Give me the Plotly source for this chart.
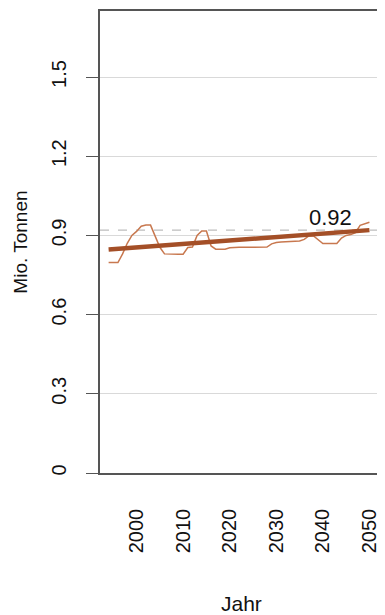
import plotly.graph_objects as go

years = list(range(1994, 2051))
values = [
    0.797, 0.797, 0.797, 0.830, 0.870, 0.900, 0.915, 0.935, 0.939, 0.939,  # 1994-2003
    0.900, 0.855, 0.830, 0.829, 0.829, 0.829, 0.829, 0.854, 0.856, 0.900,  # 2004-2013
    0.917, 0.917, 0.860, 0.848, 0.848, 0.848, 0.853, 0.855, 0.855, 0.855,  # 2014-2023
    0.855, 0.855, 0.855, 0.855, 0.856, 0.868, 0.873, 0.875, 0.876, 0.877,  # 2024-2033
    0.878, 0.879, 0.885, 0.898, 0.898, 0.885, 0.869, 0.869, 0.869, 0.869,  # 2034-2043
    0.890, 0.900, 0.903, 0.910, 0.938, 0.945, 0.950,                       # 2044-2050
]
trend_years = [1994, 2050]
trend_values = [0.847, 0.920]
ref_value = 0.92
ref_label = "0.92"
ref_label_year = 2041.6
ref_label_value = 0.966

x_ticks = [2000, 2010, 2020, 2030, 2040, 2050]
y_ticks = [0, 0.3, 0.6, 0.9, 1.2, 1.5]
y_tick_text = ["0", "0.3", "0.6", "0.9", "1.2", "1.5"]

FONT = "Liberation Sans, Arial, Helvetica, sans-serif"

fig = go.Figure()
fig.add_trace(go.Scatter(x=years, y=values, mode="lines",
                         line=dict(color="#c8784f", width=1.5), showlegend=False))
fig.add_trace(go.Scatter(x=trend_years, y=trend_values, mode="lines",
                         line=dict(color="#a44f27", width=4.5), showlegend=False))

fig.add_shape(type="line", xref="paper", yref="y", x0=0, x1=1, y0=ref_value, y1=ref_value,
              line=dict(color="#bdbdbd", width=1.3, dash="dash"), layer="below")

fig.add_annotation(x=ref_label_year, y=ref_label_value, text=ref_label, showarrow=False,
                   font=dict(family=FONT, size=22, color="#111"))
fig.add_annotation(xref="paper", yref="paper", x=0.5, y=-0.282, text="Jahr", showarrow=False,
                   font=dict(family=FONT, size=21, color="#111"), yanchor="middle")
fig.add_annotation(xref="paper", yref="paper", x=-0.285, y=0.5, text="Mio. Tonnen", showarrow=False,
                   textangle=-90, font=dict(family=FONT, size=19, color="#111"), xanchor="center")

fig.update_layout(
    width=377, height=607,
    margin=dict(l=92, r=2, t=1, b=142),
    paper_bgcolor="white", plot_bgcolor="white",
    font=dict(family=FONT, size=20, color="#111"),
    xaxis=dict(range=[1992.15, 2052.7], tickvals=x_ticks, tickangle=-90,
               ticks="outside", ticklen=26, tickcolor="rgba(0,0,0,0)",
               showgrid=False, zeroline=False,
               showline=True, mirror=True, linecolor="#555", linewidth=1.6),
    yaxis=dict(range=[0, 1.75], tickvals=y_ticks, ticktext=y_tick_text, tickangle=-90,
               ticks="outside", ticklen=12, tickcolor="#555", tickwidth=1.3,
               ticklabelstandoff=12,
               showgrid=True, gridcolor="#d9d9d9", gridwidth=1, zeroline=False,
               showline=True, mirror=True, linecolor="#555", linewidth=1.6),
)

fig.write_html("out.html")
